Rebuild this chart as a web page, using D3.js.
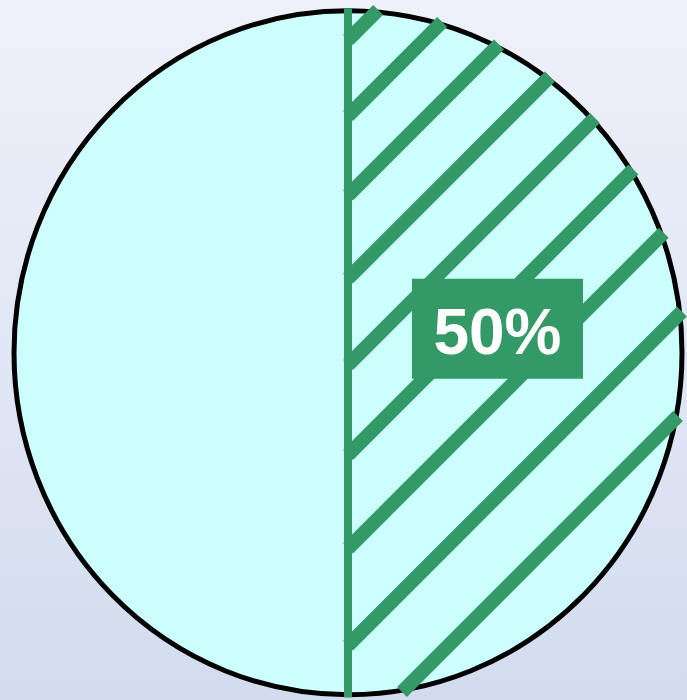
<!DOCTYPE html>
<html>
<head>
<meta charset="utf-8">
<script src="https://cdn.jsdelivr.net/npm/d3@7"></script>
<style>
  body { margin: 0; }
</style>
</head>
<body>
<div id="chart"></div>
<script>
let width = 687
let height = 700

// pie data
const categories = ["A", "B"]
const values = [50, 50]

// ellipse geometry (the pie is slightly taller than wide)
let cx = 348, cy = 352.75
let rx = 334, ry = 342
let green = "#339966"

let svg = d3.select("#chart")
  .append("svg")
    .attr("width", width)
    .attr("height", height)

let defs = svg.append("defs")
let grad = defs.append("linearGradient")
    .attr("id", "bg")
    .attr("x1", 0).attr("y1", 0).attr("x2", 0).attr("y2", 1)
grad.append("stop").attr("offset", "0%").attr("stop-color", "#eff1fa")
grad.append("stop").attr("offset", "100%").attr("stop-color", "#d2dcee")

svg.append("rect")
    .attr("width", width)
    .attr("height", height)
    .attr("fill", "url(#bg)")

let pie = d3.pie().sort(null).value(d => d)
let arcs = pie(values)
let arc = d3.arc().innerRadius(0).outerRadius(rx)

// slices, drawn as a circle of radius rx then stretched vertically
let g = svg.append("g")
    .attr("transform", `translate(${cx},${cy}) scale(1,${ry / rx})`)

g.selectAll("path")
  .data(arcs)
  .enter()
  .append("path")
    .attr("d", arc)
    .attr("fill", "#ccffff")

svg.append("ellipse")
    .attr("cx", cx).attr("cy", cy)
    .attr("rx", rx).attr("ry", ry)
    .attr("fill", "none")
    .attr("stroke", "#000")
    .attr("stroke-width", 5)

// hatch for the first slice: 45deg lines, spacing slowly widening downwards
let hatch = []
let off = -312.75, step = 76
while (off < 480) {
  // line: X + Y = off (relative to centre)
  let a = 1 / (rx * rx) + 1 / (ry * ry)
  let b = -2 * off / (ry * ry)
  let c = off * off / (ry * ry) - 1
  let disc = b * b - 4 * a * c
  if (disc > 0) {
    let x1 = (-b - Math.sqrt(disc)) / (2 * a)
    let x2 = (-b + Math.sqrt(disc)) / (2 * a)
    let ext = 3 / Math.SQRT2
    let start = x1 < 0 ? [0, off] : [x1 - ext, off - x1 + ext]
    let end = [x2 + ext, off - x2 - ext]
    if (x2 > 0) hatch.push([start, end])
  }
  off += step
  step += 3.5
}

svg.append("g")
    .attr("transform", `translate(${cx},${cy})`)
  .selectAll("line")
  .data(hatch)
  .enter()
  .append("line")
    .attr("x1", d => d[0][0]).attr("y1", d => d[0][1])
    .attr("x2", d => d[1][0]).attr("y2", d => d[1][1])
    .attr("stroke", green)
    .attr("stroke-width", 14)

// straight edge of the hatched slice
svg.append("line")
    .attr("x1", cx).attr("x2", cx)
    .attr("y1", cy - ry - 2.5).attr("y2", cy + ry + 2.5)
    .attr("stroke", green)
    .attr("stroke-width", 8)

// label box
let total = d3.sum(values)
let labelArc = d3.arc().innerRadius(0).outerRadius(rx * 0.895)
let pos = labelArc.centroid(arcs[0])
let lx = cx + pos[0], ly = cy + pos[1] - 24

svg.append("rect")
    .attr("x", lx - 85.5).attr("y", ly - 50)
    .attr("width", 171).attr("height", 100)
    .attr("fill", green)

svg.append("text")
    .attr("x", lx)
    .attr("y", ly + 25.5)
    .attr("text-anchor", "middle")
    .style("font-family", "'Liberation Sans', Arial, sans-serif")
    .style("font-weight", "bold")
    .style("font-size", "64px")
    .attr("fill", "#fff")
    .text(d3.format(".0%")(values[0] / total))
</script>
</body>
</html>
